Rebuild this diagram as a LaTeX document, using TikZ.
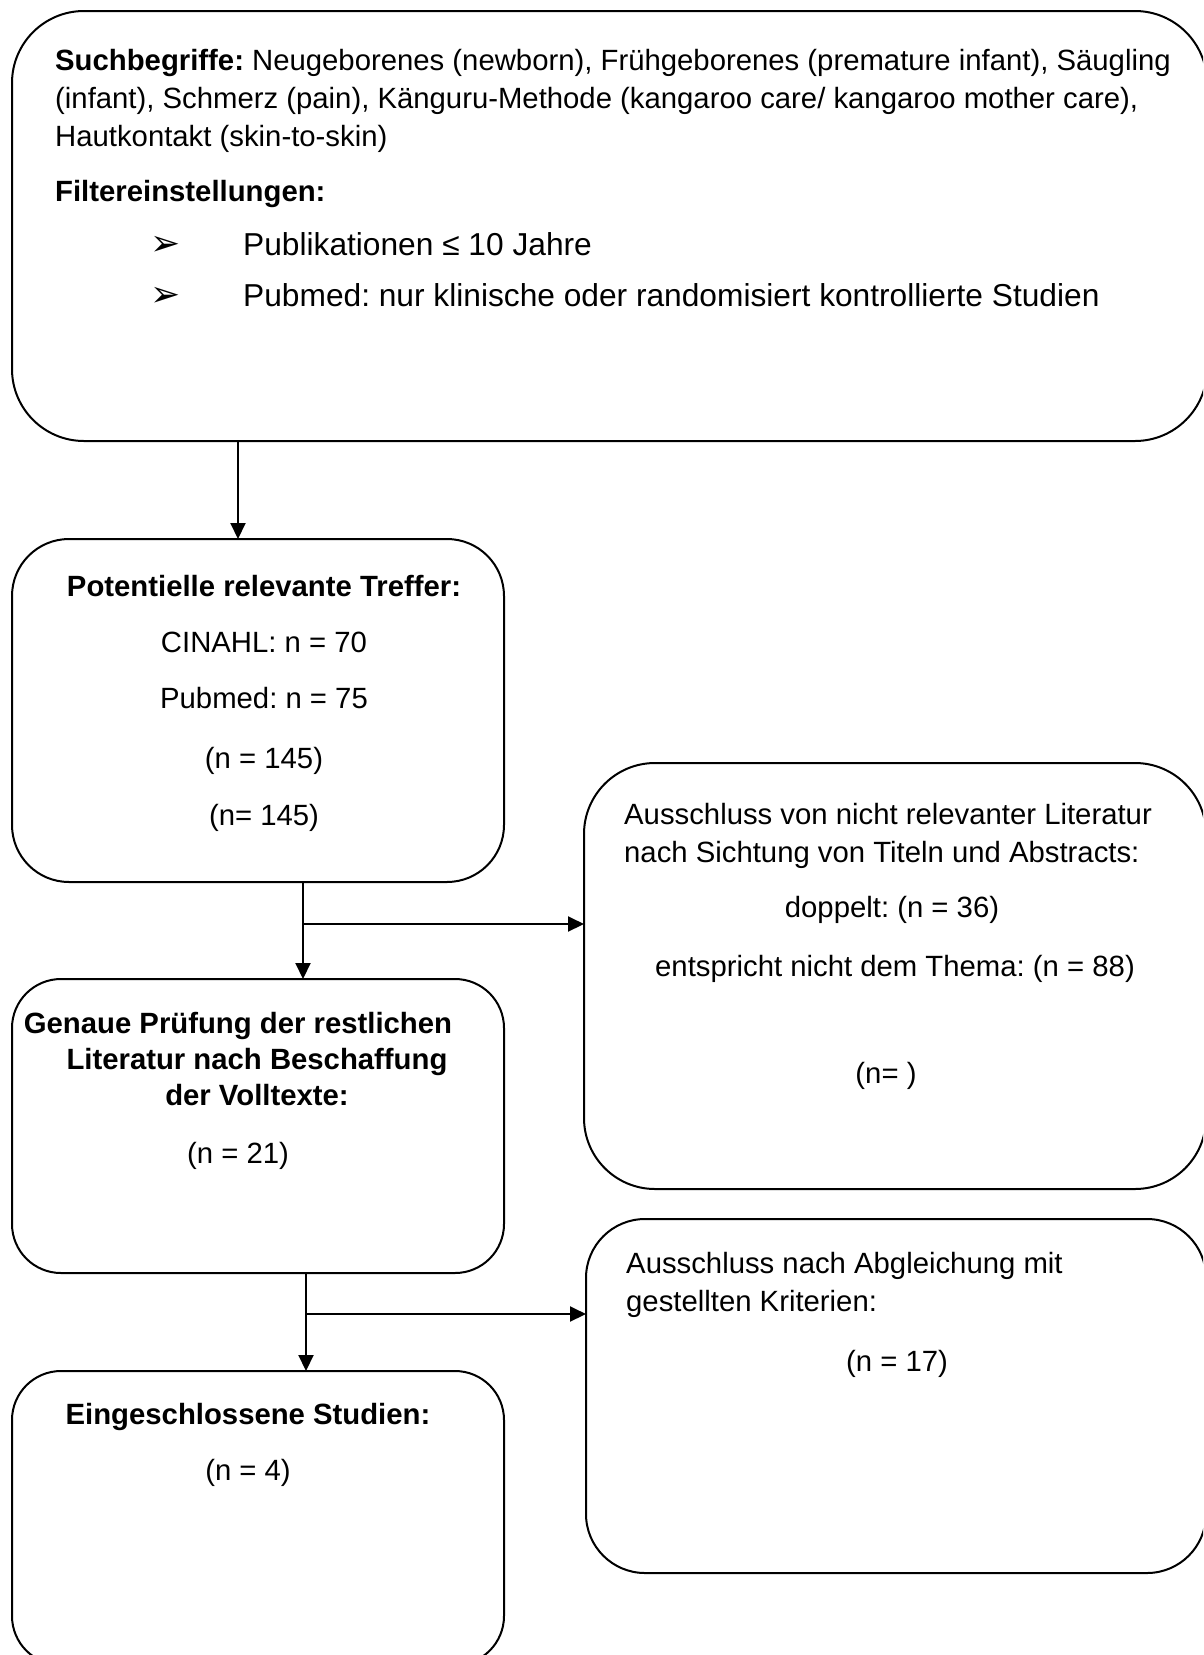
\documentclass[tikz,border=0pt]{standalone}
\usepackage{fontspec}
\setmainfont{Liberation Sans}
\newfontfamily\dingfont{DejaVu Sans}
\usetikzlibrary{arrows.meta}
\begin{document}
\frenchspacing
\begin{tikzpicture}[x=1pt,y=-1pt,
  box/.style={draw, line width=2pt, inner sep=0pt, outer sep=0pt, anchor=north west},
  arr/.style={line width=2pt, -{Triangle[length=16pt,width=15pt]}},
  txt/.style={inner sep=0pt, font=\frenchspacing\fontsize{29.3}{38.5}\selectfont},
  bigtxt/.style={inner sep=0pt, anchor=base west, font=\frenchspacing\fontsize{31.7}{40}\selectfont},
  bullet/.style={inner sep=0pt, anchor=base west, font=\dingfont\fontsize{36}{36}\selectfont},
]
\useasboundingbox (0,0) rectangle (1203,1655);
\clip (0,0) rectangle (1203,1655);

% boxes
\node[box, rounded corners=72pt, minimum width=1195pt, minimum height=430pt] (top) at (12,11) {};
\node[box, rounded corners=57pt, minimum width=492pt, minimum height=343pt] (b2) at (12,539) {};
\node[box, rounded corners=49pt, minimum width=492pt, minimum height=294pt] (b3) at (12,979) {};
\node[box, rounded corners=71pt, minimum width=622pt, minimum height=426pt] (b4) at (584,763) {};
\node[box, rounded corners=59pt, minimum width=620pt, minimum height=354pt] (b5) at (586,1219) {};
\node[box, rounded corners=49pt, minimum width=492pt, minimum height=294pt] (b6) at (12,1371) {};

% top box text
\node[txt, anchor=base west] (t1) at (55,70) {\textbf{Suchbegriffe:} Neugeborenes (newborn), Frühgeborenes (premature infant), Säugling};
\node[txt, anchor=base west] (t2) at (55,108) {(infant), Schmerz (pain), Känguru-Methode (kangaroo care/ kangaroo mother care),};
\node[txt, anchor=base west] (t3) at (55,146) {Hautkontakt (skin-to-skin)};
\node[txt, anchor=base west] (t4) at (55,201) {\textbf{Filtereinstellungen:}};
\node[bullet] (bu1) at (150,255) {➢};
\node[bigtxt] (f1) at (243,255) {Publikationen ≤ 10 Jahre};
\node[bullet] (bu2) at (150,306) {➢};
\node[bigtxt] (f2) at (243,306) {Pubmed: nur klinische oder randomisiert kontrollierte Studien};

% box 2 text
\node[txt, anchor=base] (p1) at (264,596) {\textbf{Potentielle relevante Treffer:}};
\node[txt, anchor=base] (p2) at (264,652) {CINAHL: n = 70};
\node[txt, anchor=base] (p3) at (264,708) {Pubmed: n = 75};
\node[txt, anchor=base] (p4) at (264,768) {(n = 145)};
\node[txt, anchor=base] (p5) at (264,825) {(n= 145)};

% box 3 text
\node[txt, anchor=base] (g1) at (238,1033) {\textbf{Genaue Prüfung der restlichen}};
\node[txt, anchor=base] (g2) at (257,1069) {\textbf{Literatur nach Beschaffung}};
\node[txt, anchor=base] (g3) at (257,1105) {\textbf{der Volltexte:}};
\node[txt, anchor=base] (g4) at (238,1163) {(n = 21)};

% box 4 text
\node[txt, anchor=base west] (a1) at (624,824) {Ausschluss von nicht relevanter Literatur};
\node[txt, anchor=base west] (a2) at (624,862) {nach Sichtung von Titeln und Abstracts:};
\node[txt, anchor=base] (a3) at (892,917) {doppelt: (n = 36)};
\node[txt, anchor=base] (a4) at (895,976) {entspricht nicht dem Thema: (n = 88)};
\node[txt, anchor=base] (a5) at (886,1083) {(n= )};

% box 5 text
\node[txt, anchor=base west] (k1) at (626,1273) {Ausschluss nach Abgleichung mit};
\node[txt, anchor=base west] (k2) at (626,1311) {gestellten Kriterien:};
\node[txt, anchor=base] (k3) at (897,1371) {(n = 17)};

% box 6 text
\node[txt, anchor=base] (e1) at (248,1424) {\textbf{Eingeschlossene Studien:}};
\node[txt, anchor=base] (e2) at (248,1480) {(n = 4)};

% connectors
\coordinate (c1) at (238,0);
\coordinate (j1) at (303,924);
\coordinate (j2) at (306,1314);
\draw[arr] (top.south -| c1) -- (b2.north -| c1);
\draw[arr] (b2.south -| j1) -- (b3.north -| j1);
\draw[arr] (j1) -- (j1 -| b4.west);
\draw[arr] (b3.south -| j2) -- (b6.north -| j2);
\draw[arr] (j2) -- (j2 -| b5.west);
\end{tikzpicture}
\end{document}
